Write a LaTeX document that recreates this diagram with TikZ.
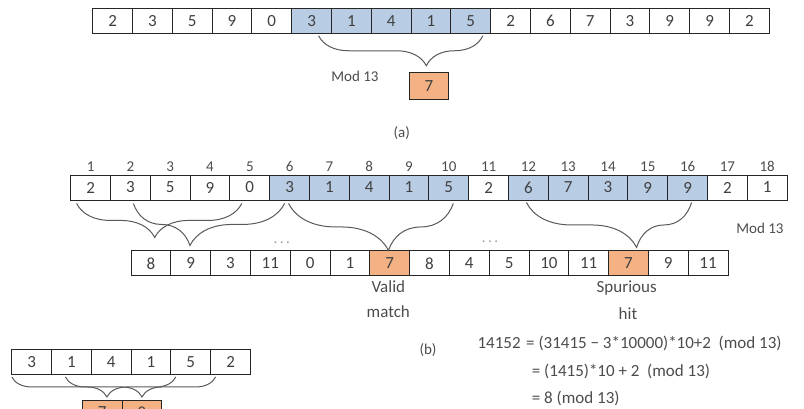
\documentclass[tikz,border=0pt]{standalone}
\usepackage{fontspec}
\setmainfont{Carlito}
\usetikzlibrary{decorations.pathreplacing}
\definecolor{winblue}{RGB}{184,204,228}
\definecolor{hitorange}{RGB}{244,177,131}
\definecolor{digit}{RGB}{64,64,64}
\tikzset{
  cell/.style={draw=black!85, line width=0.9pt, minimum width=39.8pt, minimum height=25pt,
    inner sep=0pt, text=digit, font=\fontsize{17}{20}\selectfont},
  win/.style={cell, fill=winblue},
  hit/.style={cell, fill=hitorange},
  lbl/.style={text=black!70, font=\fontsize{15}{18}\selectfont},
  note/.style={text=black!70, font=\fontsize{17}{20}\selectfont},
  idx/.style={text=black!70, font=\fontsize{15}{17}\selectfont},
  curly/.style={decorate, draw=black!65, line width=1pt, decoration={brace, mirror}},
}
\begin{document}
\begin{tikzpicture}[x=1pt,y=-1pt]
\useasboundingbox (0,0) rectangle (804,408);
\clip (0,0) rectangle (804,408);
% (a) one window hashed
\foreach \v/\s [count=\i] in {2/cell,3/cell,5/cell,9/cell,0/cell,3/win,1/win,4/win,1/win,5/win,
    2/cell,6/cell,7/cell,3/cell,9/cell,9/cell,2/cell}
  \node[\s] (a\i) at ({92.7+(\i-0.5)*39.8},20.8) {\v};
\node[hit, minimum height=27pt] (ahash) at (429,86) {7};
\node[lbl] (amod) at (355,76) {Mod 13};
\draw[curly, decoration={amplitude=30pt, aspect=0.656}] ([shift={(7,2)}]a6.south) -- ([shift={(12,2)}]a10.south);
\node[lbl] (acap) at (401.7,133) {(a)};
%
% (b) text, positions and rolling hashes
\foreach \v/\s [count=\i] in {2/cell,3/cell,5/cell,9/cell,0/cell,3/win,1/win,4/win,1/win,5/win,
    2/cell,6/win,7/win,3/win,9/win,9/win,2/cell,1/cell}
{
  \node[\s] (b\i) at ({70.7+(\i-0.5)*39.8},187.5) {\v};
  \node[idx] (n\i) at ({70.7+(\i-0.5)*39.8},166.7) {\i};
}
\foreach \v/\s [count=\i] in {8/cell,9/cell,3/cell,11/cell,0/cell,1/cell,7/hit,8/cell,4/cell,5/cell,
    10/cell,11/cell,7/hit,9/cell,11/cell}
  \node[\s] (h\i) at ({131+(\i-0.5)*39.8},263.3) {\v};
%
\draw[curly, decoration={amplitude=34pt, aspect=0.473}] ([shift={(-14,3)}]b1.south) -- ([shift={(-8,3)}]b5.south);
\draw[curly, decoration={amplitude=42pt, aspect=0.374}] ([shift={(3,3)}]b2.south) -- ([shift={(-5,3)}]b6.south);
\draw[curly, decoration={amplitude=47pt, aspect=0.606}] ([shift={(-1,3)}]b6.south) -- ([shift={(4.5,3)}]b10.south);
\draw[curly, decoration={amplitude=45pt, aspect=0.667}] ([shift={(-2,2)}]b12.south) -- ([shift={(4,2)}]b16.south);
%
\node[lbl, text=black!40] (dots1) at (281.7,242.7) {.\,.\,.};
\node[lbl, text=black!40] (dots2) at (490,241.7) {.\,.\,.};
\node[lbl] (bmod) at (760,228.3) {Mod 13};
\node[note] (valid) at (388.3,286.7) {Valid};
\node[note] (match) at (388.3,311.7) {match};
\node[note] (spur) at (626.7,288.3) {Spurious};
\node[note] (hitw) at (628,313.3) {hit};
\node[lbl] (bcap) at (428,350) {(b)};
%
% (c) rolling the hash one step
\foreach \v [count=\i] in {3,1,4,1,5,2}
  \node[cell] (c\i) at ({11.7+(\i-0.5)*39.8},362) {\v};
\node[hit] (r1) at (102.2,412.5) {7};
\node[hit] (r2) at (142,412.5) {8};
\draw[curly, decoration={amplitude=20pt, aspect=0.58}] ([shift={(-19.8,2)}]c1.south) -- ([shift={(-15,2)}]c5.south);
\draw[curly, decoration={amplitude=20pt, aspect=0.51}] ([shift={(-6,2)}]c2.south) -- ([shift={(-15,2)}]c6.south);
%
\node[note, anchor=west] (eq0) at (474,343) {14152};
\node[note, anchor=west] (eq1) at (522.7,343) {= (31415 − 3*10000)*10+2 \ (mod 13)};
\node[note, anchor=west] (eq2) at (528.4,371.7) {= (1415)*10 + 2 \ (mod 13)};
\node[note, anchor=west] (eq3) at (528.4,398) {= 8 (mod 13)};
\end{tikzpicture}
\end{document}
